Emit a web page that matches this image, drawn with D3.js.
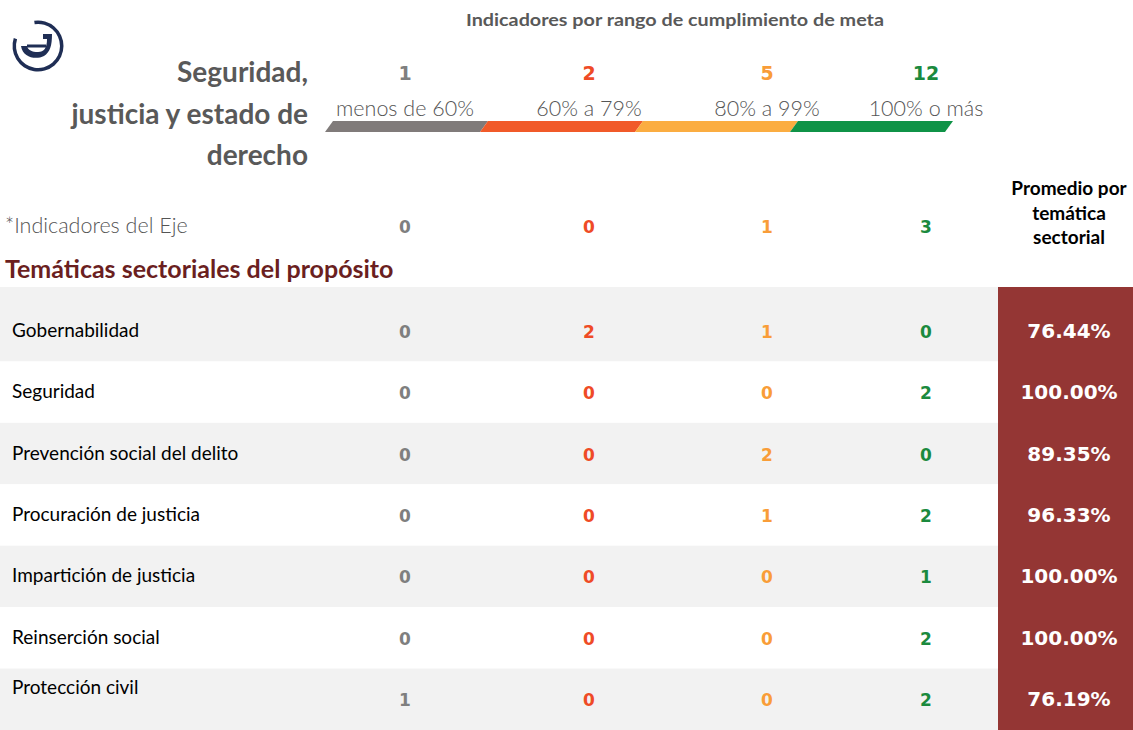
<!DOCTYPE html>
<html>
<head>
<meta charset="utf-8">
<script src="https://cdn.jsdelivr.net/npm/d3@7"></script>
<style>
  html, body { margin: 0; padding: 0; background: #fff; }
  svg { display: block; }
  .cal { font-family: Lato, "Open Sans", sans-serif; }
  .ver { font-family: "DejaVu Sans", Verdana, sans-serif; font-weight: bold; }
</style>
</head>
<body>
<svg id="chart" width="1133" height="730"></svg>
<script>
// data
const ranges = ["menos de 60%", "60% a 79%", "80% a 99%", "100% o más"];
const rangeTotals = [1, 2, 5, 12];
const ejeCounts = [0, 0, 1, 3];
const topics = [
  "Gobernabilidad",
  "Seguridad",
  "Prevención social del delito",
  "Procuración de justicia",
  "Impartición de justicia",
  "Reinserción social",
  "Protección civil"
];
const countsGob = [0, 2, 1, 0];
const countsSeg = [0, 0, 0, 2];
const countsPrev = [0, 0, 2, 0];
const countsProc = [0, 0, 1, 2];
const countsImp = [0, 0, 0, 1];
const countsRein = [0, 0, 0, 2];
const countsProt = [1, 0, 0, 2];
const topicCounts = [countsGob, countsSeg, countsPrev, countsProc, countsImp, countsRein, countsProt];
const topicAverages = [76.44, 100.00, 89.35, 96.33, 100.00, 100.00, 76.19];

const barColors = ["#807B7A", "#F15A29", "#FBAD41", "#0F9347"];
const textColors = ["#7F7F7F", "#EF4B26", "#F99D38", "#1B8A3E"];

const W = 1133, H = 730;
const tableTop = 287;
const svg = d3.select("#chart");

// scales (columns are not evenly spaced in the original layout)
const x = d3.scaleOrdinal().domain(ranges).range([405, 589, 767, 926]);
const xBar = d3.scaleBand().domain(ranges).range([325, 945]);
const y = d3.scaleBand().domain(topics).range([300, 730]);
const color = d3.scaleOrdinal().domain(ranges).range(textColors);
const barColor = d3.scaleOrdinal().domain(ranges).range(barColors);
const fmt = d => d3.format(".2f")(d) + "%";

// logo
const logo = svg.append("g").attr("transform", "translate(38,46)");
const arc = d3.arc().innerRadius(22).outerRadius(25.5)
  .startAngle(-0.15).endAngle(Math.PI * 1.6);
logo.append("path").attr("d", arc()).attr("fill", "#1F2E55");
logo.append("path")
  .attr("d", "M-17,0 C-15,12 -2,14 6,10 C12,6 14,0 14,-12 L5,-12 L5,-7 L9,-7 C9,2 6,6 0,6 C-6,6 -10,4 -11,0 Z")
  .attr("fill", "#1F2E55");
logo.append("path")
  .attr("d", "M-11,0 L8,0")
  .attr("stroke", "#1F2E55").attr("stroke-width", 3);

// title on the left
const titleLines = ["Seguridad,", "justicia y estado de", "derecho"];
svg.append("g").selectAll("text").data(titleLines).join("text")
  .attr("class", "cal")
  .attr("x", 308).attr("y", (d, i) => 82 + i * 41.5)
  .attr("text-anchor", "end")
  .attr("font-size", 28).attr("font-weight", "bold")
  .attr("fill", "#595959")
  .text(d => d);

// header
svg.append("text").attr("class", "cal")
  .attr("x", 675).attr("y", 26)
  .attr("text-anchor", "middle")
  .attr("font-size", 17).attr("font-weight", "bold")
  .attr("textLength", 418).attr("lengthAdjust", "spacingAndGlyphs")
  .attr("fill", "#595959")
  .text("Indicadores por rango de cumplimiento de meta");

svg.append("g").selectAll("text").data(ranges).join("text")
  .attr("class", "ver")
  .attr("x", d => x(d)).attr("y", 80)
  .attr("text-anchor", "middle")
  .attr("font-size", 19)
  .attr("fill", d => color(d))
  .text((d, i) => rangeTotals[i]);

svg.append("g").selectAll("text").data(ranges).join("text")
  .attr("class", "cal")
  .attr("x", d => x(d)).attr("y", 116)
  .attr("text-anchor", "middle")
  .attr("font-size", 21.5).attr("font-weight", 300)
  .attr("fill", "#555")
  .text(d => d);

// slanted colour bar
const skew = 8, barTop = 121, barBot = 132;
svg.append("g").selectAll("path").data(ranges).join("path")
  .attr("d", d => {
    const x0 = xBar(d), x1 = x0 + xBar.bandwidth();
    return `M${x0},${barBot} L${x0 + skew},${barTop} L${x1 + skew},${barTop} L${x1},${barBot} Z`;
  })
  .attr("fill", d => barColor(d));

// eje row
svg.append("text").attr("class", "cal")
  .attr("x", 5).attr("y", 233)
  .attr("font-size", 21.5).attr("font-weight", 300)
  .attr("fill", "#555")
  .text("*Indicadores del Eje");

svg.append("g").selectAll("text").data(ranges).join("text")
  .attr("class", "ver")
  .attr("x", d => x(d)).attr("y", 233)
  .attr("text-anchor", "middle")
  .attr("font-size", 17)
  .attr("fill", d => color(d))
  .text((d, i) => ejeCounts[i]);

svg.append("text").attr("class", "cal")
  .attr("x", 5).attr("y", 278)
  .attr("font-size", 25).attr("font-weight", "bold")
  .attr("fill", "#6B1F1F")
  .text("Temáticas sectoriales del propósito");

// average column header
const avgHead = ["Promedio por", "temática", "sectorial"];
svg.append("g").selectAll("text").data(avgHead).join("text")
  .attr("class", "cal")
  .attr("x", 1069).attr("y", (d, i) => 195 + i * 24.5)
  .attr("text-anchor", "middle")
  .attr("font-size", 19).attr("font-weight", "bold")
  .attr("fill", "#000")
  .text(d => d);

// table rows (first band reaches up to the table top)
const rows = svg.append("g").selectAll("g").data(topics).join("g")
  .attr("transform", d => `translate(0,${y(d)})`);

rows.append("rect")
  .attr("x", 0).attr("width", 998)
  .attr("y", (d, i) => i === 0 ? tableTop - y(d) : 0)
  .attr("height", (d, i) => y.bandwidth() + (i === 0 ? y(d) - tableTop : 0))
  .attr("fill", (d, i) => i % 2 === 0 ? "#F2F2F2" : "#FFFFFF");

rows.append("text").attr("class", "cal")
  .attr("x", 12).attr("y", (d, i) => y.bandwidth() / 2 + (i === topics.length - 1 ? -5 : 6))
  .attr("font-size", 19)
  .attr("fill", "#000")
  .text(d => d);

rows.selectAll("text.num").data((d, i) => topicCounts[i].map((v, j) => ({ r: ranges[j], v })))
  .join("text")
  .attr("class", "num ver")
  .attr("x", d => x(d.r)).attr("y", y.bandwidth() / 2 + 7)
  .attr("text-anchor", "middle")
  .attr("font-size", 17)
  .attr("fill", d => color(d.r))
  .text(d => d.v);

// average column
svg.append("rect")
  .attr("x", 998).attr("y", tableTop)
  .attr("width", W - 998).attr("height", y.range()[1] - tableTop)
  .attr("fill", "#943634");

svg.append("g").selectAll("text").data(topics).join("text")
  .attr("class", "ver")
  .attr("x", 1069).attr("y", d => y(d) + y.bandwidth() / 2 + 7)
  .attr("text-anchor", "middle")
  .attr("font-size", 20)
  .attr("fill", "#fff")
  .text((d, i) => fmt(topicAverages[i]));
</script>
</body>
</html>
